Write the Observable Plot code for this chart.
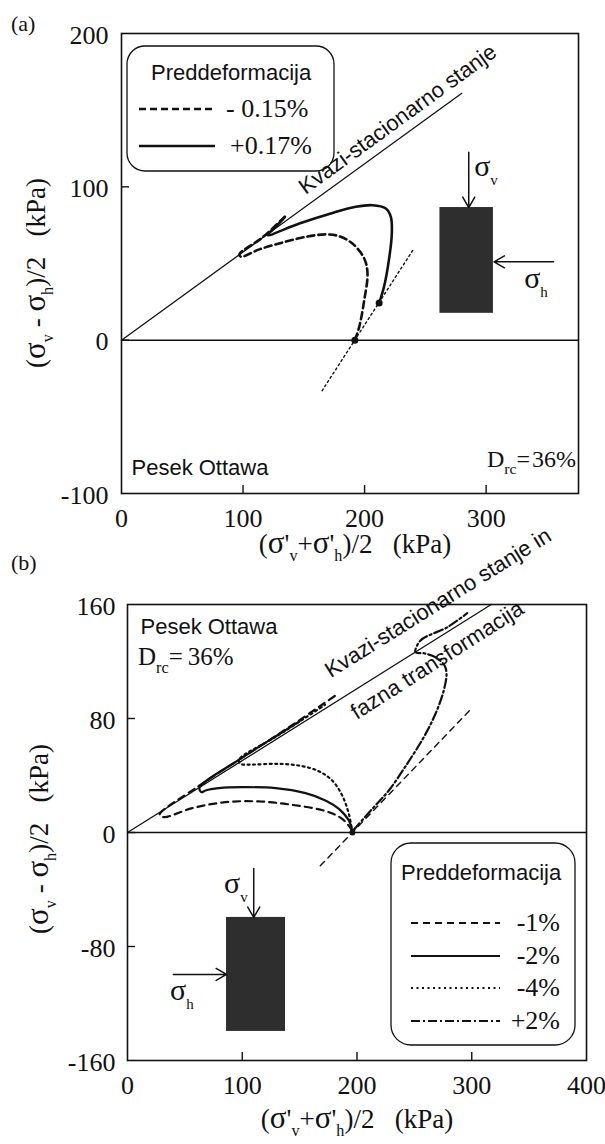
<!DOCTYPE html>
<html><head><meta charset="utf-8">
<script src="https://cdn.jsdelivr.net/npm/d3@7"></script>
<script src="https://cdn.jsdelivr.net/npm/@observablehq/plot@0.6"></script>
<style>
body{margin:0;background:#fff;}
#page{position:relative;width:605px;height:1144px;overflow:hidden;background:#fff;}
</style></head><body><div id="page"></div>
<script>
// ---------------- Panel (a) data ----------------
const xTicksA = [0, 100, 200, 300];
const yTicksA = [-100, 0, 100, 200];
const steadyAx = [0, 280];
const steadyAy = [0, 161];
const pathM015x = [192, 195.6, 199.7, 202.4, 199.7, 190, 179, 168, 151.8, 132.6, 113.4, 98.3, 97, 116, 135];
const pathM015y = [0, 8.7, 26, 43.5, 53.3, 63, 67.8, 69, 67.4, 63.7, 59.2, 54.4, 56, 67, 81];
const pathP017x = [212, 216, 220, 222.4, 221.6, 217.5, 206.5, 192.8, 173.6, 146.3, 120.2, 127, 134];
const pathP017y = [24.3, 34.8, 52.2, 69.6, 80.4, 85.9, 88, 87, 83, 76.1, 68.5, 74, 80];
const dirAx = [165, 240];
const dirAy = [-33, 59];
const startAx = [192, 212];
const startAy = [0, 24.3];
const legendLabelsA = ["- 0.15%", "+0.17%"];
const sampleA = {x1: 262, x2: 306, y1: 17.5, y2: 86.5};
const arrowsA = [
  {x1: 285.7, y1: 122.6, x2: 285.7, y2: 86.5},
  {x1: 355.5, y1: 51.1, x2: 306.5, y2: 51.1}
];
const sigmaLabelsA = [{x: 290.6, y: 107, sub: "v"}, {x: 331.7, y: 33.9, sub: "h"}];
const steadyLabelA = {text: "Kvazi-stacionarno stanje", x: 151.9, y: 94.4, angle: -36, length: 238};

// ---------------- Panel (b) data ----------------
const xTicksB = [0, 100, 200, 300, 400];
const yTicksB = [-160, -80, 0, 80, 160];
const steadyBx = [0, 317];
const steadyBy = [0, 160];
const pathM1x = [195.8, 187.1, 172.5, 143.5, 114.4, 85.4, 56.4, 31.7, 28, 60, 100, 140, 181];
const pathM1y = [1.4, 9.6, 15, 19.4, 21.8, 21.3, 17.1, 10.8, 12.5, 31.5, 52.5, 73.5, 96];
const pathM2x = [196, 192.9, 184.2, 172.5, 155.1, 129, 100, 79.6, 68, 64.5, 62.7, 100, 150];
const pathM2y = [0, 8.4, 16.6, 22.5, 27.6, 31.1, 31.8, 31.1, 29.5, 28.3, 31.4, 52.5, 78];
const pathM4x = [196, 192.9, 187.1, 178.4, 166.7, 149.3, 129, 108.7, 98.5, 97, 130, 172];
const pathM4y = [0, 13.1, 26, 36.5, 43, 47, 48.2, 47.7, 48.2, 51, 67.5, 89.5];
const pathP2x = [197.2, 214.7, 227.7, 243.7, 258.2, 268.4, 275.6, 278, 276.3, 268.4, 258.2, 251, 255.3, 278.6, 296];
const pathP2y = [1.9, 17.8, 29.5, 48.2, 66.9, 83.3, 99.6, 111.4, 117.2, 123, 125.8, 126.5, 134.7, 144, 153.9];
const dirBx = [168, 300.4];
const dirBy = [-23.4, 87.5];
const startBx = [196];
const startBy = [0];
const legendLabelsB = ["-1%", "-2%", "-4%", "+2%"];
const sampleB = {x1: 86.3, x2: 137.7, y1: -139.6, y2: -59.6};
const arrowsB = [
  {x1: 110, y1: -25.3, x2: 110, y2: -59.6},
  {x1: 40, y1: -99.6, x2: 86.3, y2: -99.6}
];
const sigmaLabelsB = [{x: 84.5, y: -42.8, sub: "v"}, {x: 37.5, y: -117.9, sub: "h"}];
const steadyLabelB = {text: "Kvazi-stacionarno stanje in", x: 177.5, y: 107.9, angle: -32, length: 262};
const phaseLabelB = {text: "fazna transformacija", x: 200.2, y: 78.6, angle: -32.5, length: 200};

// ---------------- helpers ----------------
const SERIF = "Liberation Serif, Times New Roman, serif";
const SANS = "Liberation Sans, Arial, sans-serif";
const INK = "#111";
const zip = (xs, ys) => xs.map((x, i) => ({x, y: ys[i]}));
const fmt = d => String(d);

function axes(xt, yt, xInner, yInner, xPad, yPad) {
  return [
    Plot.axisX(xt, {tickSize: 0, tickPadding: xPad, fontSize: 26, fontFamily: SERIF, color: INK, label: null, tickFormat: fmt}),
    Plot.axisY(yt, {tickSize: 0, tickPadding: yPad, fontSize: 26, fontFamily: SERIF, color: INK, label: null, dy: 2, tickFormat: fmt}),
    Plot.axisX(xInner, {tickSize: -8, tickFormat: () => "", color: INK, strokeWidth: 1.4, label: null}),
    Plot.axisY(yInner, {tickSize: -8, tickFormat: () => "", color: INK, strokeWidth: 1.4, label: null})
  ];
}

function rich(svg, x, y, parts, o = {}) {
  const size = o.size || 25, subScale = o.subScale || 0.6;
  const t = d3.select(svg).append("text")
    .attr("transform", `translate(${x},${y})` + (o.rotate ? ` rotate(${o.rotate})` : ""))
    .attr("text-anchor", o.anchor || "start")
    .attr("font-family", o.family || SERIF)
    .attr("font-size", size)
    .attr("fill", INK);
  if (o.length) t.attr("textLength", o.length).attr("lengthAdjust", "spacing");
  let cur = 0;
  for (const [s, kind, sz] of parts) {
    const off = kind === "sub" ? size * 0.3 : 0;
    const ts = t.append("tspan").attr("dy", off - cur).text(s);
    cur = off;
    if (kind === "sub") ts.attr("font-size", size * subScale);
    if (sz) ts.attr("font-size", sz);
  }
  return t;
}

function drawLegend(svg, box, header, items) {
  const g = d3.select(svg).append("g");
  g.append("rect").attr("x", box.x).attr("y", box.y).attr("width", box.w).attr("height", box.h)
    .attr("rx", box.r).attr("fill", "none").attr("stroke", INK).attr("stroke-width", 1.3);
  g.append("text").attr("x", header.x).attr("y", header.y).attr("text-anchor", "start").attr("font-family", SANS)
    .attr("font-size", 22).attr("fill", INK).text(header.text);
  for (const it of items) {
    g.append("line").attr("x1", it.x1).attr("x2", it.x2).attr("y1", it.y).attr("y2", it.y)
      .attr("stroke", INK).attr("stroke-width", it.w).attr("stroke-dasharray", it.dash || null);
    g.append("text").attr("x", it.tx).attr("y", it.y + 8).attr("text-anchor", it.anchor || "start")
      .attr("font-family", SERIF).attr("font-size", 26).attr("fill", INK).text(it.label);
  }
}

function sideLabels(svg, sx, sy, labels) {
  for (const l of labels) rich(svg, sx.apply(l.x), sy.apply(l.y), [[l.text, "n"]], {size: 22, family: SANS, rotate: l.angle, length: l.length});
}

const yLabelParts = [["(", "n"], ["σ", "n", 31], ["v", "sub"], ["\u00a0-\u00a0", "n"], ["σ", "n", 31], ["h", "sub"], [")/2\u00a0\u00a0\u00a0(kPa)", "n"]];
const xLabelParts = [["(", "n"], ["σ", "n", 31], ["'", "n"], ["v", "sub"], ["+", "n"], ["σ", "n", 31], ["'", "n"], ["h", "sub"], [")/2\u00a0\u00a0\u00a0(kPa)", "n"]];

const page = document.getElementById("page");

// ---------------- Panel (a) ----------------
const plotA = Plot.plot({
  width: 605, height: 560,
  marginTop: 33, marginBottom: 67, marginLeft: 121, marginRight: 27,
  x: {domain: [0, 376], label: null},
  y: {domain: [-100, 200], label: null},
  style: {background: "transparent", overflow: "visible", fontFamily: SERIF},
  marks: [
    Plot.ruleY([0], {stroke: INK, strokeWidth: 1.5}),
    Plot.line(zip(steadyAx, steadyAy), {x: "x", y: "y", stroke: INK, strokeWidth: 1.3}),
    Plot.line(zip(dirAx, dirAy), {x: "x", y: "y", stroke: INK, strokeWidth: 1.4, strokeDasharray: "2,3"}),
    Plot.line(zip(pathM015x, pathM015y), {x: "x", y: "y", stroke: INK, strokeWidth: 2.6, strokeDasharray: "7,4", curve: "catmull-rom"}),
    Plot.line(zip(pathP017x, pathP017y), {x: "x", y: "y", stroke: INK, strokeWidth: 2.6, curve: "catmull-rom"}),
    Plot.dot(zip(startAx, startAy), {x: "x", y: "y", r: 3.5, fill: INK}),
    Plot.rect([sampleA], {x1: "x1", x2: "x2", y1: "y1", y2: "y2", fill: "#2e2e2e"}),
    Plot.arrow(arrowsA, {x1: "x1", y1: "y1", x2: "x2", y2: "y2", stroke: INK, strokeWidth: 1.5, headLength: 12}),
    Plot.text(["Pesek Ottawa"], {frameAnchor: "bottom-left", dx: 10, dy: -19, textAnchor: "start", lineAnchor: "bottom", fontSize: 22, fontFamily: SANS, fill: INK}),
    Plot.frame({stroke: INK, strokeWidth: 1.6}),
    ...axes(xTicksA, yTicksA, [100, 200, 300], [0, 100], 15, 13)
  ]
});
plotA.style.position = "absolute";
plotA.style.left = "0px";
plotA.style.top = "0px";
page.appendChild(plotA);
{
  const sx = plotA.scale("x"), sy = plotA.scale("y");
  sideLabels(plotA, sx, sy, [steadyLabelA]);
  for (const s of sigmaLabelsA) rich(plotA, sx.apply(s.x), sy.apply(s.y), [["σ", "n"], [s.sub, "sub"]], {size: 30, subScale: 0.5});
  rich(plotA, 576, 467, [["D", "n"], ["rc", "sub"], ["=\u200a36%", "n"]], {size: 24, anchor: "end", subScale: 0.65});
  rich(plotA, 45, 273, yLabelParts, {size: 27, anchor: "middle", rotate: -90});
  rich(plotA, 355, 553, xLabelParts, {size: 27, anchor: "middle"});
  rich(plotA, 11, 31, [["(a)", "n"]], {size: 22});
  drawLegend(plotA, {x: 127, y: 46, w: 207, h: 125, r: 18}, {text: "Preddeformacija", x: 151, y: 80}, [
    {label: legendLabelsA[0], x1: 139, x2: 215, y: 109, w: 2.6, dash: "7,4", tx: 226},
    {label: legendLabelsA[1], x1: 139, x2: 215, y: 146, w: 2.6, tx: 230}
  ]);
}

// ---------------- Panel (b) ----------------
const TOPB = 560;
const plotB = Plot.plot({
  width: 605, height: 584,
  marginTop: 44, marginBottom: 84, marginLeft: 127, marginRight: 19,
  x: {domain: [0, 400], label: null},
  y: {domain: [-160, 160], label: null},
  style: {background: "transparent", overflow: "visible", fontFamily: SERIF},
  marks: [
    Plot.ruleY([0], {stroke: INK, strokeWidth: 1.5}),
    Plot.line(zip(steadyBx, steadyBy), {x: "x", y: "y", stroke: INK, strokeWidth: 1.3}),
    Plot.line(zip(dirBx, dirBy), {x: "x", y: "y", stroke: INK, strokeWidth: 1.4, strokeDasharray: "6,5"}),
    Plot.line(zip(pathM1x, pathM1y), {x: "x", y: "y", stroke: INK, strokeWidth: 2.2, strokeDasharray: "7,5", curve: "catmull-rom"}),
    Plot.line(zip(pathM2x, pathM2y), {x: "x", y: "y", stroke: INK, strokeWidth: 2.2, curve: "catmull-rom"}),
    Plot.line(zip(pathM4x, pathM4y), {x: "x", y: "y", stroke: INK, strokeWidth: 2.2, strokeDasharray: "2,3.5", curve: "catmull-rom"}),
    Plot.line(zip(pathP2x, pathP2y), {x: "x", y: "y", stroke: INK, strokeWidth: 2.2, strokeDasharray: "9,3,2,3", curve: "catmull-rom"}),
    Plot.dot(zip(startBx, startBy), {x: "x", y: "y", r: 3, fill: INK}),
    Plot.rect([sampleB], {x1: "x1", x2: "x2", y1: "y1", y2: "y2", fill: "#2e2e2e"}),
    Plot.arrow(arrowsB, {x1: "x1", y1: "y1", x2: "x2", y2: "y2", stroke: INK, strokeWidth: 1.5, headLength: 12}),
    Plot.text(["Pesek Ottawa"], {frameAnchor: "top-left", dx: 13, dy: 29, textAnchor: "start", lineAnchor: "bottom", fontSize: 22, fontFamily: SANS, fill: INK}),
    Plot.frame({stroke: INK, strokeWidth: 1.6}),
    ...axes(xTicksB, yTicksB, [100, 200, 300], [-80, 0, 80], 15, 12)
  ]
});
plotB.style.position = "absolute";
plotB.style.left = "0px";
plotB.style.top = TOPB + "px";
page.appendChild(plotB);
{
  const sx = plotB.scale("x"), sy = plotB.scale("y");
  sideLabels(plotB, sx, sy, [steadyLabelB, phaseLabelB]);
  for (const s of sigmaLabelsB) rich(plotB, sx.apply(s.x), sy.apply(s.y), [["σ", "n"], [s.sub, "sub"]], {size: 30, subScale: 0.5});
  rich(plotB, 138, 665 - TOPB, [["D", "n"], ["rc", "sub"], ["=\u2009", "n"], ["36%", "n"]], {size: 25, subScale: 0.65});
  rich(plotB, 48, 839 - TOPB, yLabelParts, {size: 27, anchor: "middle", rotate: -90});
  rich(plotB, 357, 1128 - TOPB, xLabelParts, {size: 27, anchor: "middle"});
  rich(plotB, 11, 570 - TOPB, [["(b)", "n"]], {size: 22});
  drawLegend(plotB, {x: 391, y: 843 - TOPB, w: 184, h: 202, r: 20}, {text: "Preddeformacija", x: 401, y: 880 - TOPB}, [
    {label: legendLabelsB[0], x1: 411, x2: 500, y: 923 - TOPB, w: 2.2, dash: "7,5", tx: 560, anchor: "end"},
    {label: legendLabelsB[1], x1: 411, x2: 500, y: 956 - TOPB, w: 2.2, tx: 560, anchor: "end"},
    {label: legendLabelsB[2], x1: 411, x2: 500, y: 988 - TOPB, w: 2.2, dash: "2,3.5", tx: 560, anchor: "end"},
    {label: legendLabelsB[3], x1: 411, x2: 500, y: 1021 - TOPB, w: 2.2, dash: "9,3,2,3", tx: 560, anchor: "end"}
  ]);
}
</script></body></html>
